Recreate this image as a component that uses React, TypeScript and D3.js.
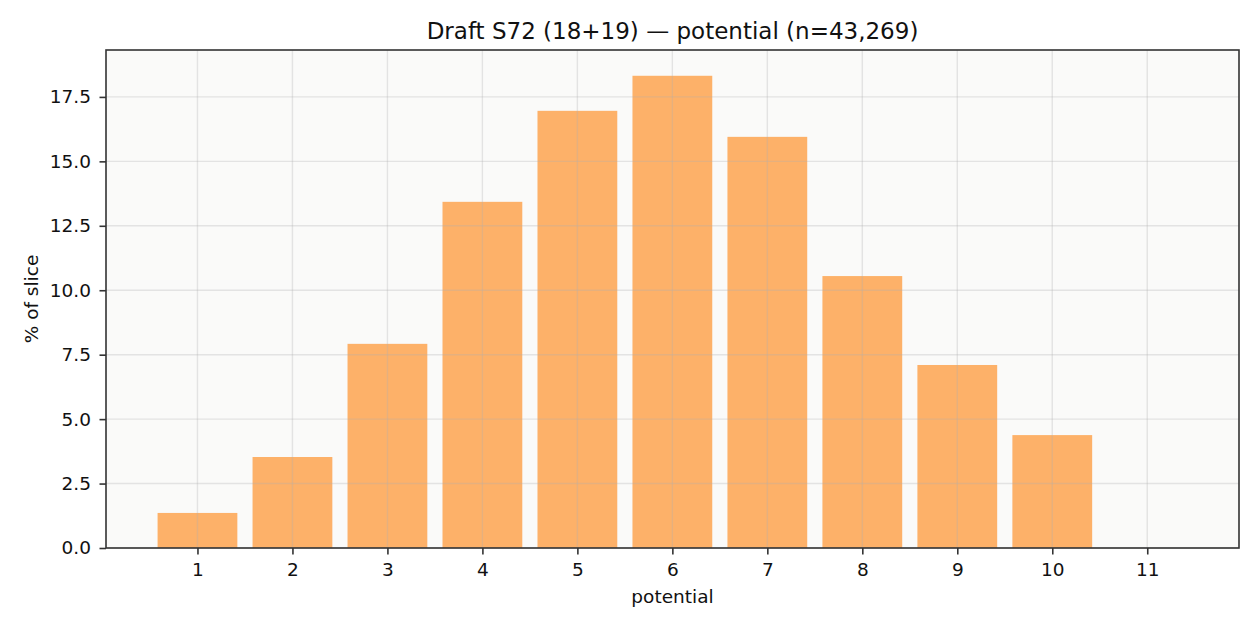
import { useEffect, useRef } from 'react'
import * as d3 from 'd3'

const potentials = [1, 2, 3, 4, 5, 6, 7, 8, 9, 10, 11]
const pctOfSlice = [1.36, 3.53, 7.92, 13.43, 16.96, 18.32, 15.95, 10.55, 7.1, 4.38, 0.0]
const yTicks = [0, 2.5, 5, 7.5, 10, 12.5, 15, 17.5]
const title = 'Draft S72 (18+19) — potential (n=43,269)'

const W = 1260
const H = 630
const margin = { top: 50, right: 21, bottom: 82, left: 106 }
const font = '"DejaVu Sans", sans-serif'
const labelSize = 18.5
const titleSize = 23
const barWidth = 0.84

export default function App() {
  const ref = useRef<SVGSVGElement>(null)

  useEffect(() => {
    if (!ref.current) return
    const inner = { w: W - margin.left - margin.right, h: H - margin.top - margin.bottom }

    d3.select(ref.current).selectAll('*').remove()
    const svg = d3.select(ref.current).attr('width', W).attr('height', H).style('font-family', font)

    svg.append('rect').attr('width', W).attr('height', H).attr('fill', '#ffffff')

    const g = svg.append('g').attr('transform', `translate(${margin.left},${margin.top})`)

    // matplotlib-ish autoscale: bar extents plus 5% margins
    const x = d3.scaleLinear().domain([0.037, 11.966]).range([0, inner.w])
    const y = d3.scaleLinear().domain([0, 19.32]).range([inner.h, 0])

    g.append('rect').attr('width', inner.w).attr('height', inner.h).attr('fill', '#fafaf9')

    const data = potentials.map((p, i) => ({ p, v: pctOfSlice[i] }))

    // Bars
    g.selectAll('.bar')
      .data(data)
      .join('rect')
      .attr('class', 'bar')
      .attr('x', (d) => x(d.p - barWidth / 2))
      .attr('y', (d) => y(d.v))
      .attr('width', x(barWidth) - x(0))
      .attr('height', (d) => inner.h - y(d.v))
      .attr('fill', '#fdad61')
      .attr('fill-opacity', 0.95)

    // Grid, drawn over the bars
    const grid = g.append('g').attr('stroke', '#b0b0b0').attr('stroke-opacity', 0.3).attr('stroke-width', 1.4)
    grid.selectAll('.gx')
      .data(potentials)
      .join('line')
      .attr('x1', (d) => x(d))
      .attr('x2', (d) => x(d))
      .attr('y1', 0)
      .attr('y2', inner.h)
    grid.selectAll('.gy')
      .data(yTicks)
      .join('line')
      .attr('x1', 0)
      .attr('x2', inner.w)
      .attr('y1', (d) => y(d))
      .attr('y2', (d) => y(d))

    // Axes
    const xAxis = g.append('g')
      .attr('transform', `translate(0,${inner.h})`)
      .call(d3.axisBottom(x).tickValues(potentials).tickSize(6.5).tickPadding(8).tickFormat((d) => String(d)))
    const yAxis = g.append('g')
      .call(d3.axisLeft(y).tickValues(yTicks).tickSize(6.5).tickPadding(8.5).tickFormat((d) => (d as number).toFixed(1)))
    for (const ax of [xAxis, yAxis]) {
      ax.select('.domain').remove()
      ax.selectAll('line').attr('stroke', '#333333').attr('stroke-width', 1.6)
      ax.selectAll('text')
        .attr('font-family', font)
        .attr('font-size', labelSize)
        .attr('fill', '#111111')
    }

    // Spines
    g.append('rect')
      .attr('width', inner.w)
      .attr('height', inner.h)
      .attr('fill', 'none')
      .attr('stroke', '#333333')
      .attr('stroke-width', 1.6)

    // Labels
    svg.append('text')
      .attr('x', margin.left + inner.w / 2)
      .attr('y', 39)
      .attr('text-anchor', 'middle')
      .attr('font-size', titleSize)
      .attr('fill', '#111111')
      .text(title)

    svg.append('text')
      .attr('x', margin.left + inner.w / 2)
      .attr('y', 603)
      .attr('text-anchor', 'middle')
      .attr('font-size', labelSize)
      .attr('fill', '#111111')
      .text('potential')

    svg.append('text')
      .attr('transform', `translate(38,${margin.top + inner.h / 2}) rotate(-90)`)
      .attr('text-anchor', 'middle')
      .attr('font-size', labelSize)
      .attr('fill', '#111111')
      .text('% of slice')
  }, [])

  return <svg ref={ref} style={{ display: 'block', position: 'absolute', left: 0, top: 0 }} />
}
